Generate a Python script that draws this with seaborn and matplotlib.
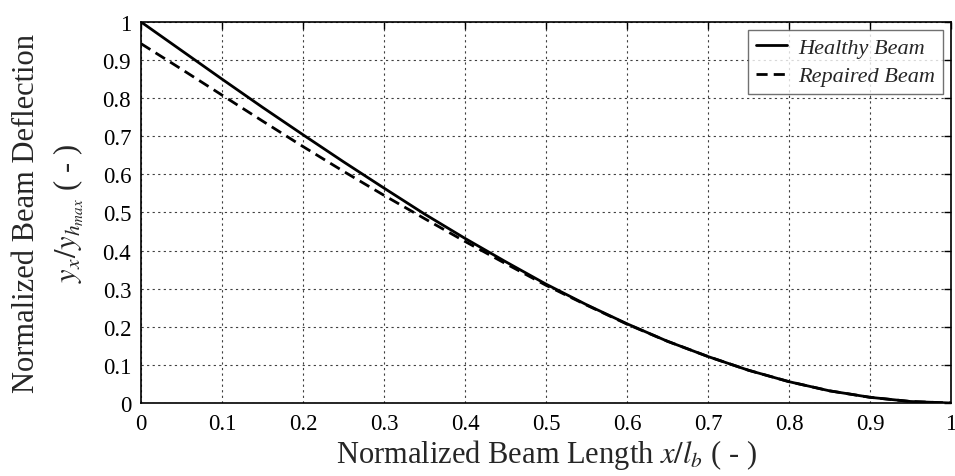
import numpy as np
import pandas as pd
import matplotlib
matplotlib.use("Agg")
import matplotlib.pyplot as plt
import seaborn as sns
from matplotlib.ticker import FuncFormatter

# values
x_pos = [0.0, 0.05, 0.1, 0.15, 0.2, 0.25, 0.3, 0.35, 0.4, 0.45, 0.5,
         0.55, 0.6, 0.65, 0.7, 0.75, 0.8, 0.85, 0.9, 0.95, 1.0]
healthy = [1.0, 0.925, 0.850, 0.776, 0.704, 0.633, 0.564, 0.496, 0.432, 0.371, 0.312,
           0.258, 0.208, 0.162, 0.122, 0.086, 0.056, 0.032, 0.015, 0.004, 0.0]
repaired = [0.943, 0.876, 0.808, 0.740, 0.673, 0.608, 0.545, 0.484, 0.424, 0.366, 0.309,
            0.257, 0.207, 0.162, 0.122, 0.086, 0.056, 0.032, 0.015, 0.004, 0.0]
series_names = ["Healthy Beam", "Repaired Beam"]
tick_vals = [0, 0.1, 0.2, 0.3, 0.4, 0.5, 0.6, 0.7, 0.8, 0.9, 1]

sns.set_style("white")
plt.rcParams["font.family"] = ["Liberation Serif", "DejaVu Serif"]
plt.rcParams["mathtext.fontset"] = "stix"

df = pd.DataFrame({
    "x": x_pos * 2,
    "y": healthy + repaired,
    "beam": [series_names[0]] * len(x_pos) + [series_names[1]] * len(x_pos),
})

fig = plt.figure(figsize=(9.55, 4.77), dpi=100)
ax = fig.add_axes([0.1476, 0.153, 0.8482, 0.799])

sns.lineplot(data=df, x="x", y="y", style="beam", color="k", linewidth=2.0,
             dashes={series_names[0]: "", series_names[1]: (4, 2.2)},
             ax=ax, legend=True)

ax.set_xlim(0, 1)
ax.set_ylim(0, 1)
ax.set_xticks(tick_vals)
ax.set_yticks(tick_vals)
fmt = FuncFormatter(lambda v, p: "%g" % v)
ax.xaxis.set_major_formatter(fmt)
ax.yaxis.set_major_formatter(fmt)
ax.tick_params(direction="in", top=True, right=True, length=5, width=1,
               labelsize=16.5, colors="k", pad=7)
ax.grid(True, linestyle=(0, (2, 3)), color="0.25", linewidth=0.8)
for s in ax.spines.values():
    s.set_color("k")
    s.set_linewidth(1.2)

ax.set_xlabel("Normalized Beam Length $x/l_b$ ( - )", fontsize=22, labelpad=2)
ax.set_ylabel("Normalized Beam Deflection\n$y_x/y_{h_{max}}$ ( - )", fontsize=22,
              labelpad=12, linespacing=1.45)

leg = ax.legend(loc="upper right", fontsize=16, frameon=True, fancybox=False,
                edgecolor="0.3", handlelength=1.4, borderaxespad=0.35,
                labelspacing=0.35, borderpad=0.35, handletextpad=0.5)
leg.get_frame().set_linewidth(1.0)
for t in leg.get_texts():
    t.set_fontstyle("italic")

fig.savefig("out.png", dpi=100)
